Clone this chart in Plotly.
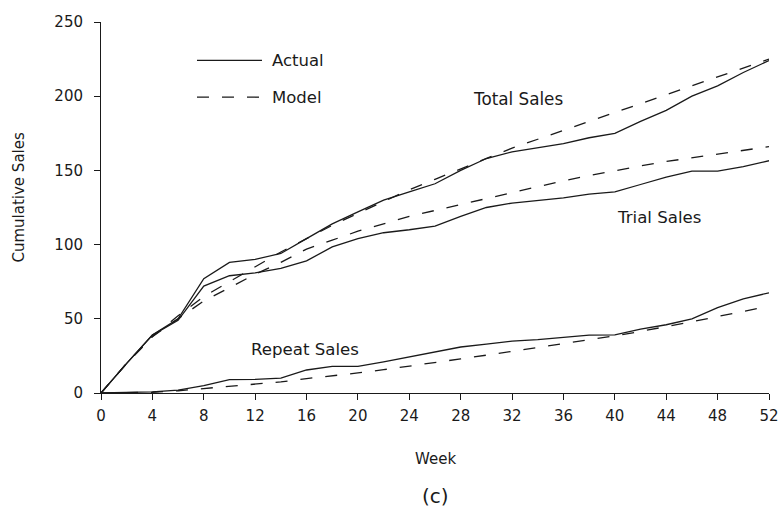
import plotly.graph_objects as go

weeks = list(range(0, 53, 2))

total_actual = [0, 20, 39, 50, 77, 88, 90, 94, 104, 114, 122, 130, 135.5, 141, 150, 158, 162.5,
                165, 168, 172, 175, 183, 190.5, 200, 207, 216, 224]
total_model = [0, 20, 38, 52, 65, 75, 85, 95, 104, 113, 121, 129, 137, 144, 151, 158, 165,
               171, 177, 183, 189, 195, 201, 207, 213, 219, 225]
trial_actual = [0, 20, 39, 49, 72, 79, 81, 84, 89, 98.5, 104, 108, 110, 112.5, 119, 125, 128,
                129.5, 131.5, 134, 135.5, 140.5, 145.5, 149.5, 149.5, 152.5, 156.5]
trial_model = [0, 20, 38, 50, 62, 71, 80, 88, 97, 103, 109, 114, 119, 123, 127, 131, 135.5,
               139.5, 143, 146.5, 150, 153, 156, 158.5, 161, 163.5, 166]
repeat_actual = [0, 0.3, 0.8, 2, 5, 9, 9.2, 10, 15.5, 18, 18, 21, 24.5, 28, 31, 33, 35,
                 36, 37.7, 39, 39.2, 43, 46, 50, 57.5, 63.5, 67.5]
repeat_model = [0, 0, 0.5, 1.5, 3, 4, 5.5, 7.5, 9.7, 11.5, 13.5, 15.7, 18, 20.7, 23, 25.5, 28,
                30.5, 33, 35.5, 38.5, 41.5, 44.5, 48, 51.5, 55, 58.5]

x_ticks = list(range(0, 53, 4))
y_ticks = list(range(0, 251, 50))

series_labels = ["Total Sales", "Trial Sales", "Repeat Sales"]
legend_labels = ["Actual", "Model"]

INK = "#1a1a1a"
FONT = "DejaVu Sans"
DASH = "12px,13px"

fig = go.Figure()
for name, act, mod in [
    ("Total", total_actual, total_model),
    ("Trial", trial_actual, trial_model),
    ("Repeat", repeat_actual, repeat_model),
]:
    fig.add_trace(go.Scatter(x=weeks, y=mod, mode="lines", name=name + " model",
                             line=dict(color=INK, width=1.3, dash=DASH), showlegend=False))
    fig.add_trace(go.Scatter(x=weeks, y=act, mode="lines", name=name + " actual",
                             line=dict(color=INK, width=1.3), showlegend=False))

annotations = [
    dict(x=32.46, y=198.0, text=series_labels[0], showarrow=False, xanchor="center", yanchor="middle",
         font=dict(size=16.8)),
    dict(x=43.4, y=118.6, text=series_labels[1], showarrow=False, xanchor="center", yanchor="middle",
         font=dict(size=16.6)),
    dict(x=15.88, y=29.2, text=series_labels[2], showarrow=False, xanchor="center", yanchor="middle",
         font=dict(size=16.6)),
    dict(x=0.253, y=0.8967, xref="paper", yref="paper", text=legend_labels[0], showarrow=False,
         xanchor="left", yanchor="middle", font=dict(size=16.5)),
    dict(x=0.253, y=0.7974, xref="paper", yref="paper", text=legend_labels[1], showarrow=False,
         xanchor="left", yanchor="middle", font=dict(size=16.5)),
    dict(x=0.5, y=-0.1768, xref="paper", yref="paper", text="Week", showarrow=False,
         xanchor="center", yanchor="middle", font=dict(size=15)),
    dict(x=0.5, y=-0.2763, xref="paper", yref="paper", text="(c)", showarrow=False,
         xanchor="center", yanchor="middle", font=dict(size=20)),
    dict(x=-0.1228, y=0.5268, xref="paper", yref="paper", text="Cumulative Sales", showarrow=False,
         textangle=-90, xanchor="center", yanchor="middle", font=dict(size=15)),
]

shapes = [
    dict(type="line", xref="paper", yref="paper", x0=0.1437, x1=0.241, y0=0.8967, y1=0.8967,
         line=dict(color=INK, width=1.3)),
    dict(type="line", xref="paper", yref="paper", x0=0.1437, x1=0.241, y0=0.7974, y1=0.7974,
         line=dict(color=INK, width=1.3, dash=DASH)),
]

fig.update_layout(
    width=784, height=514,
    margin=dict(l=101, r=15, t=21.6, b=120.7, autoexpand=False),
    paper_bgcolor="white", plot_bgcolor="white",
    font=dict(family=FONT, size=16, color=INK),
    annotations=annotations, shapes=shapes,
    showlegend=False,
)
fig.update_xaxes(range=[0, 52], tickvals=x_ticks, ticktext=[str(v) for v in x_ticks],
                 automargin=False,
                 showgrid=False, zeroline=False, showline=True, linecolor=INK, linewidth=1,
                 ticks="outside", ticklen=6, tickcolor=INK, tickwidth=1,
                 ticklabelstandoff=3,
                 tickfont=dict(size=15, family=FONT, color=INK))
fig.update_yaxes(range=[0, 250], tickvals=y_ticks, ticktext=[str(v) for v in y_ticks],
                 automargin=False,
                 showgrid=False, zeroline=False, showline=True, linecolor=INK, linewidth=1,
                 ticks="outside", ticklen=6, tickcolor=INK, tickwidth=1,
                 ticklabelstandoff=8,
                 tickfont=dict(size=15, family=FONT, color=INK))

fig.write_html("out.html",
               config={"displayModeBar": False},
               post_script="document.body.style.margin='0';document.body.style.overflow='hidden';")
